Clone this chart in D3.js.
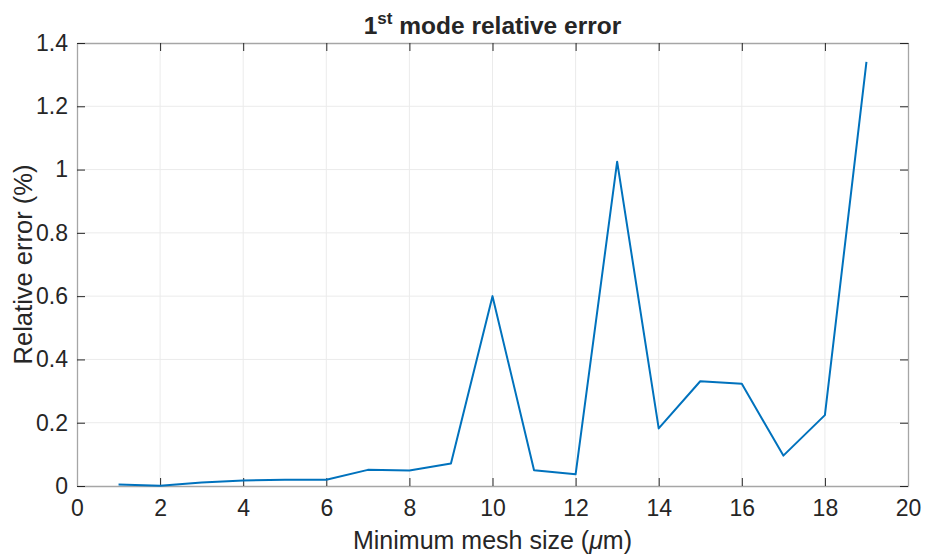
<!DOCTYPE html>
<html><head><meta charset="utf-8">
<script src="https://cdn.jsdelivr.net/npm/d3@7"></script>
<style>body{margin:0;background:#fff}svg{display:block}text{font-family:"Liberation Sans",Arial,sans-serif;fill:#262626}</style>
</head><body><svg id="c" width="925" height="554"></svg>
<script>
const meshSize = [1,2,3,4,5,6,7,8,9,10,11,12,13,14,15,16,17,18,19];
const relError = [0.005,0.001,0.011,0.017,0.02,0.02,0.051,0.049,0.071,0.600,0.050,0.037,1.025,0.182,0.331,0.323,0.096,0.224,1.340];
const xTicks = [0,2,4,6,8,10,12,14,16,18,20];
const yTicks = [0,0.2,0.4,0.6,0.8,1,1.2,1.4];

const svg = d3.select("#c");
const L=77,R=908,T=43,B=486;
const x = d3.scaleLinear().domain([0,20]).range([L,R]);
const y = d3.scaleLinear().domain([0,1.4]).range([B,T]);

// grid
svg.append("g").selectAll("line").data(xTicks.slice(1,-1)).join("line")
  .attr("x1",d=>x(d)).attr("x2",d=>x(d)).attr("y1",T).attr("y2",B)
  .attr("stroke","#ebebeb").attr("stroke-width",1);
svg.append("g").selectAll("line").data(yTicks.slice(1,-1)).join("line")
  .attr("y1",d=>y(d)).attr("y2",d=>y(d)).attr("x1",L).attr("x2",R)
  .attr("stroke","#ebebeb").attr("stroke-width",1);

// axes
const xa = svg.append("g").attr("transform",`translate(0,${B})`)
  .call(d3.axisBottom(x).tickValues(xTicks).tickSizeInner(-8).tickSizeOuter(0).tickPadding(14));
const xt = svg.append("g").attr("transform",`translate(0,${T})`)
  .call(d3.axisTop(x).tickValues(xTicks).tickSizeInner(-8).tickSizeOuter(0).tickFormat(""));
const ya = svg.append("g").attr("transform",`translate(${L},0)`)
  .call(d3.axisLeft(y).tickValues(yTicks).tickSizeInner(-8).tickSizeOuter(0).tickPadding(9).tickFormat(d3.format("~g")));
const yr = svg.append("g").attr("transform",`translate(${R},0)`)
  .call(d3.axisRight(y).tickValues(yTicks).tickSizeInner(-8).tickSizeOuter(0).tickFormat(""));
[xa,xt,ya,yr].forEach(g=>{
  g.attr("font-size",23).attr("font-family","Liberation Sans, Arial, sans-serif");
  g.select(".domain").attr("stroke","#a6a6a6").attr("stroke-width",1.3);
  g.selectAll(".tick line").attr("stroke","#262626").attr("stroke-width",1);
  g.selectAll(".tick text").attr("font-size",23).attr("fill","#262626");
});

// line
svg.append("path").datum(meshSize.map((m,i)=>[m,relError[i]]))
  .attr("fill","none").attr("stroke","#0072BD").attr("stroke-width",2)
  .attr("stroke-linejoin","round")
  .attr("d",d3.line().x(d=>x(d[0])).y(d=>y(d[1])));

// title
const t = svg.append("text").attr("x",(L+R)/2).attr("y",34).attr("text-anchor","middle")
  .attr("font-size",24.5).attr("font-weight","bold");
t.append("tspan").text("1");
t.append("tspan").attr("font-size",17).attr("dy",-10).text("st");
t.append("tspan").attr("dy",10).text(" mode relative error");

// x label
const xl = svg.append("text").attr("x",(L+R)/2).attr("y",549).attr("text-anchor","middle").attr("font-size",25);
xl.append("tspan").text("Minimum mesh size (");
xl.append("tspan").attr("font-style","italic").text("\u03BC");
xl.append("tspan").text("m)");

// y label
svg.append("text").attr("transform",`translate(32,${(T+B)/2}) rotate(-90)`).attr("text-anchor","middle")
  .attr("font-size",25.5).text("Relative error (%)");
</script></body></html>
